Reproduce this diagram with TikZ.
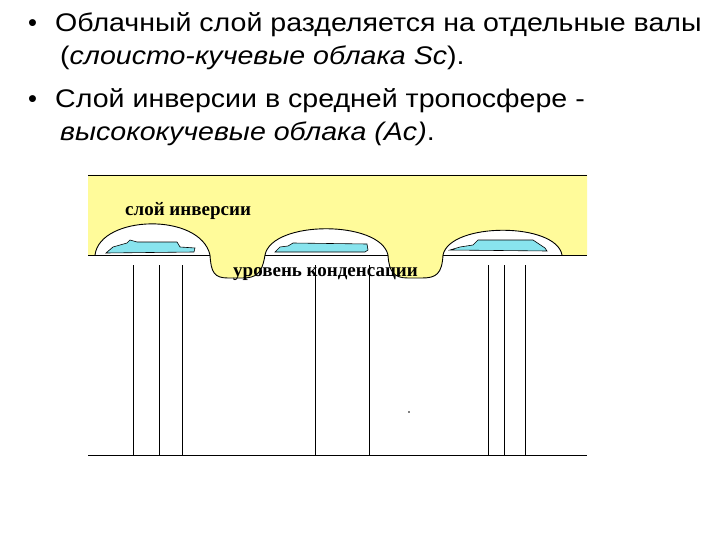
\documentclass[tikz,border=0pt]{standalone}
\usepackage{fontspec}
\setmainfont{Liberation Sans}
\newfontfamily\serifb{Liberation Serif}
\definecolor{ylw}{HTML}{FFFB9A}
\definecolor{cyn}{HTML}{88E4EE}
\newcommand{\wide}[1]{\scalebox{1.12}[1]{#1}}
\begin{document}
\begin{tikzpicture}[x=1pt,y=-1pt,
  ln/.style={line width=0.9pt},
  txt/.style={anchor=base west,inner sep=0pt,font=\fontsize{25.5}{30}\selectfont},
  lab/.style={anchor=base west,inner sep=0pt,font=\serifb\bfseries\fontsize{19}{22}\selectfont}]
\useasboundingbox (0,0) rectangle (720,540);
% yellow layer
\fill[ylw] (88,175) -- (587,175) -- (587,255) -- (562,255)
  .. controls (556,222) and (450,222) .. (443,255)
  .. controls (442,274) and (436,278) .. (422,278) -- (408,278)
  .. controls (394,278) and (389,272) .. (388,255)
  .. controls (380,220) and (272,220) .. (265,255)
  .. controls (262,274) and (256,278) .. (242,278) -- (228,278)
  .. controls (214,278) and (211,272) .. (210,255)
  .. controls (200,212) and (100,215) .. (95,255) -- (88,255) -- cycle;
\draw[ln] (88,175) -- (587,175);
\draw[ln] (88,255) -- (210,255);
\draw[ln] (265,255) -- (388,255);
\draw[ln] (443,255) -- (587,255);
\draw[ln] (562,255) .. controls (556,222) and (450,222) .. (443,255)
  .. controls (442,274) and (436,278) .. (422,278) -- (408,278)
  .. controls (394,278) and (389,272) .. (388,255)
  .. controls (380,220) and (272,220) .. (265,255)
  .. controls (262,274) and (256,278) .. (242,278) -- (228,278)
  .. controls (214,278) and (211,272) .. (210,255)
  .. controls (200,212) and (100,215) .. (95,255);
% clouds
\filldraw[fill=cyn,line width=0.6pt] (106,253) -- (113,247) -- (127,243) -- (130,240) -- (137,242) -- (177,242) -- (180,247) -- (195,248) -- (194,252) -- cycle;
\filldraw[fill=cyn,line width=0.6pt] (275,252) -- (280,247) -- (288,246) -- (293,243) -- (367,244) -- (368,250) -- (365,252) -- cycle;
\filldraw[fill=cyn,line width=0.6pt] (450,250) -- (460,247) -- (473,245) -- (478,240) -- (533,240) -- (545,248) -- (547,251) -- cycle;
% labels
\node[lab] (inv) at (125,215) {слой инверсии};
\node[lab] (cond) at (233,276) {уровень конденсации};
% vertical lines
\foreach \x in {133,159,182,315,369,488,504,525}
  \draw[ln] (\x,265) -- (\x,455);
\draw[ln] (88,455) -- (587,455);
\fill (409,412) circle (0.8);
% text
\node[txt] (b1) at (28,32) {•};
\node[txt] (t1) at (55,32) {\wide{Облачный слой разделяется на отдельные валы}};
\node[txt] (t2) at (60,65) {\wide{(\textit{слоисто-кучевые облака Sc}).}};
\node[txt] (b2) at (28,108) {•};
\node[txt] (t3) at (55,108) {\wide{Слой инверсии в средней тропосфере -}};
\node[txt] (t4) at (60,141) {\wide{\textit{высококучевые облака (Ac)}.}};
\end{tikzpicture}
\end{document}
